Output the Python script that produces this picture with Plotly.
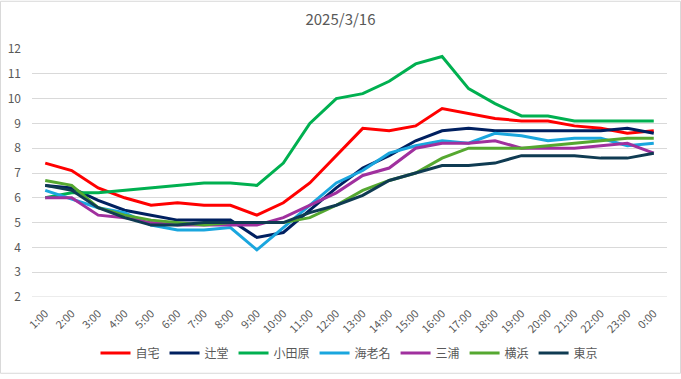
import plotly.graph_objects as go

hours = ["1:00", "2:00", "3:00", "4:00", "5:00", "6:00", "7:00", "8:00", "9:00", "10:00",
         "11:00", "12:00", "13:00", "14:00", "15:00", "16:00", "17:00", "18:00", "19:00",
         "20:00", "21:00", "22:00", "23:00", "0:00"]

jitaku = [7.4, 7.1, 6.4, 6.0, 5.7, 5.8, 5.7, 5.7, 5.3, 5.8, 6.6, 7.7, 8.8, 8.7, 8.9, 9.6,
          9.4, 9.2, 9.1, 9.1, 8.9, 8.8, 8.6, 8.7]
tsujido = [6.5, 6.4, 5.9, 5.5, 5.3, 5.1, 5.1, 5.1, 4.4, 4.6, 5.5, 6.4, 7.2, 7.7, 8.3, 8.7,
           8.8, 8.7, 8.7, 8.7, 8.7, 8.7, 8.8, 8.6]
odawara = [6.0, 6.2, 6.2, 6.3, 6.4, 6.5, 6.6, 6.6, 6.5, 7.4, 9.0, 10.0, 10.2, 10.7, 11.4, 11.7,
           10.4, 9.8, 9.3, 9.3, 9.1, 9.1, 9.1, 9.1]
ebina = [6.3, 5.95, 5.6, 5.4, 4.9, 4.7, 4.7, 4.8, 3.9, 4.8, 5.7, 6.6, 7.1, 7.8, 8.1, 8.3,
         8.2, 8.6, 8.5, 8.3, 8.4, 8.4, 8.1, 8.2]
miura = [6.0, 6.0, 5.3, 5.2, 5.0, 4.9, 4.9, 4.9, 4.9, 5.2, 5.7, 6.2, 6.9, 7.2, 8.0, 8.2,
         8.2, 8.3, 8.0, 8.0, 8.0, 8.1, 8.2, 7.8]
yokohama = [6.7, 6.5, 5.6, 5.3, 5.1, 5.0, 4.9, 5.0, 5.0, 5.0, 5.2, 5.7, 6.3, 6.7, 7.0, 7.6,
            8.0, 8.0, 8.0, 8.1, 8.2, 8.3, 8.4, 8.4]
tokyo = [6.5, 6.3, 5.6, 5.2, 4.9, 4.9, 5.0, 5.0, 5.0, 5.0, 5.4, 5.7, 6.1, 6.7, 7.0, 7.3,
         7.3, 7.4, 7.7, 7.7, 7.7, 7.6, 7.6, 7.8]

series_names = ["自宅", "辻堂", "小田原", "海老名", "三浦", "横浜", "東京"]
series_values = [jitaku, tsujido, odawara, ebina, miura, yokohama, tokyo]
series_colors = ["#FF0000", "#002060", "#00B050", "#1AA6DE", "#A0309E", "#55A830", "#0F3B52"]

fig = go.Figure()
for name, vals, col in zip(series_names, series_values, series_colors):
    fig.add_trace(go.Scatter(x=hours, y=vals, mode="lines", name=name,
                             line=dict(color=col, width=3)))

fig.update_layout(
    width=681, height=379,
    margin=dict(l=32, r=14, t=49, b=78),
    paper_bgcolor="white", plot_bgcolor="white",
    font=dict(family="Noto Sans CJK JP, Liberation Sans, sans-serif", color="#595959", size=11),
    title=dict(text="2025/3/16", x=0.5, xanchor="center", y=0.947, yanchor="middle",
               font=dict(size=15, color="#595959")),
    showlegend=True,
    legend=dict(orientation="h", x=0.5, xanchor="center", y=-0.226, yanchor="middle",
                font=dict(size=12, color="#595959"), itemwidth=30, tracegroupgap=0),
    xaxis=dict(type="category", range=[-0.5, 23.5], tickangle=-45, showgrid=False,
               showline=False, ticks="", automargin=False, ticklabelstandoff=7,
               tickfont=dict(size=11, color="#595959")),
    yaxis=dict(range=[2, 12], dtick=1, tick0=2, showgrid=True, gridcolor="#D9D9D9",
               gridwidth=1, zeroline=False, showline=False, ticks="", automargin=False,
               ticklabelstandoff=10,
               tickfont=dict(size=12, color="#595959")),
)
fig.add_shape(type="line", xref="paper", yref="y", x0=0, x1=1, y0=2, y1=2,
              line=dict(color="#D9D9D9", width=1), layer="below")
fig.add_shape(type="rect", xref="paper", yref="paper",
              x0=-31.5/635, x1=1 + 13.5/635, y0=-77.5/252, y1=1 + 48.5/252,
              line=dict(color="#D9D9D9", width=1))

fig.write_html("out.html", config={"displayModeBar": False},
               post_script="document.body.style.margin='0';document.body.style.overflow='hidden';")
